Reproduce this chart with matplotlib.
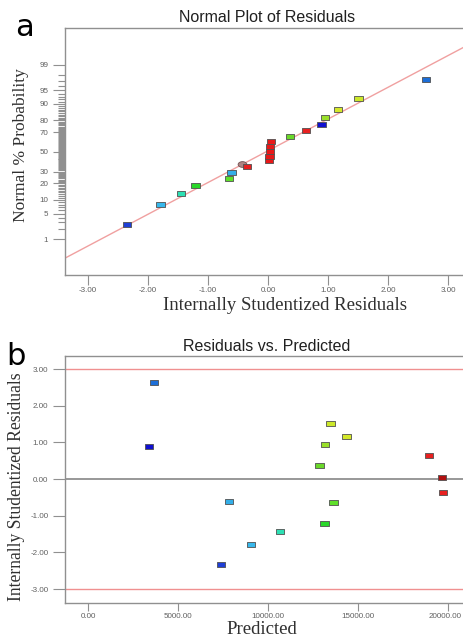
from statistics import NormalDist

import matplotlib.pyplot as plt
import matplotlib.transforms as mtrans
from matplotlib.path import Path
import numpy as np

# panel a: normal plot of residuals
resid_a = [-2.355, -1.79, -1.45, -1.21, -0.65, -0.61, -0.355,
           0.02, 0.025, 0.03, 0.035, 0.045,
           0.37, 0.633, 0.89, 0.945, 1.17, 1.51, 2.63]
pct_a = [2.7, 8.0, 13.3, 18.5, 23.8, 29.0, 35.0,
         40.5, 45.5, 50.5, 55.5, 60.5,
         66.2, 71.4, 76.4, 82.0, 87.0, 92.2, 97.4]
colors_a = ['#1f3fd6', '#38b8ec', '#2de0b4', '#2ad82a', '#5fe02a', '#33aee8', '#e82020',
            '#e81818', '#e81818', '#e81818', '#e81818', '#e81818',
            '#6ad82a', '#e82020', '#1010d0', '#9ae02a', '#d4e82a', '#cce82a', '#1c6ed8']
odd_resid = -0.43
odd_pct = 37.0
line_slope = 0.847
line_intercept = 0.03
prob_ticks = [1, 5, 10, 20, 30, 50, 70, 80, 90, 95, 99]

# panel b: residuals vs predicted
pred_b = [3685, 3407, 7833, 9037, 10667, 7407, 12870, 13167, 13481, 14352,
          13648, 13148, 18944, 19667, 19704]
resid_b = [2.625, 0.894, -0.61, -1.78, -1.44, -2.34, 0.383, 0.94, 1.51, 1.176,
           -0.647, -1.21, 0.638, 0.036, -0.355]
colors_b = ['#1c6ed8', '#1010d0', '#33aee8', '#38b8ec', '#2de0b4', '#1f3fd6', '#6ad82a',
            '#9ae02a', '#cce82a', '#d4e82a', '#5fe02a', '#2ad82a', '#e82020', '#b01010',
            '#e82020']
limit_lines = [-3.0, 3.0]

nd = NormalDist()
box = Path([(-1, -0.6), (1, -0.6), (1, 0.6), (-1, 0.6), (-1, -0.6)],
           [Path.MOVETO, Path.LINETO, Path.LINETO, Path.LINETO, Path.CLOSEPOLY])
t = np.linspace(0, 2 * np.pi, 40)
ellipse = Path(np.column_stack([np.cos(t), 0.65 * np.sin(t)]))

serif = 'Liberation Serif'
sans = 'Liberation Sans'
tick_kw = dict(fontsize=5.8, family=sans, color='#606060')
spine_col = '#909090'
W, H = 464, 638

fig = plt.figure(figsize=(4.64, 6.38), dpi=100)


def style_axes(ax, xlen):
    for s in ax.spines.values():
        s.set_color(spine_col)
        s.set_linewidth(1.0)
    ax.tick_params(which='both', direction='out', colors=spine_col, width=0.8)
    ax.tick_params(which='major', length=9)
    ax.tick_params(which='minor', length=5)
    ax.tick_params(axis='x', which='major', length=xlen, pad=1.5)
    ax.tick_params(axis='y', pad=3)


def ftext(x, y, s, **kw):
    fig.text(x / W, 1 - y / H, s, ha='center', va='center', **kw)


# ---- a ----
ax1 = fig.add_axes([65 / W, 1 - 275 / H, 420 / W, 247 / H])
style_axes(ax1, 7)
ax1.set_xlim(-3.383, (485 - 268) / 60)
ax1.set_ylim(-3.285, 3.307)
ax1.axline((0, line_intercept), slope=line_slope, color='#f0a0a0', lw=1.0, zorder=1)
za = [nd.inv_cdf(p / 100) for p in pct_a]
ax1.scatter(resid_a, za, marker=box, s=36, c=colors_a, edgecolors='#505050',
            linewidths=0.6, zorder=3)
ax1.scatter([odd_resid], [nd.inv_cdf(odd_pct / 100)], marker=ellipse, s=40,
            c='#b08484', edgecolors='#705050', linewidths=0.6, zorder=2)
ax1.set_xticks([-3, -2, -1, 0, 1, 2, 3])
ax1.set_xticklabels(['%.2f' % v for v in [-3, -2, -1, 0, 1, 2, 3]], **tick_kw)
ax1.set_yticks([nd.inv_cdf(p / 100) for p in prob_ticks])
ax1.set_yticklabels([str(p) for p in prob_ticks], **tick_kw)
minor = [p for p in range(1, 100) if p not in prob_ticks]
ax1.set_yticks([nd.inv_cdf(p / 100) for p in minor], minor=True)
ftext(267, 18, 'Normal Plot of Residuals', fontsize=11.5, family=sans, color='#202020')
ftext(285, 305, 'Internally Studentized Residuals', fontsize=13.5, family=serif,
      color='#303030')
ftext(21, 145, 'Normal % Probability', fontsize=12.5, family=serif, color='#303030',
      rotation=90)
fig.text(25 / W, 1 - 36 / H, 'a', fontsize=22, family='DejaVu Sans', ha='center',
         va='baseline')

# ---- b ----
ax2 = fig.add_axes([65 / W, 1 - 603 / H, 420 / W, 247 / H])
style_axes(ax2, 6)
ax2.set_xlim(-1278, (485 - 88) / 0.018)
ax2.set_ylim(-3.38, 3.36)
for v in limit_lines:
    ax2.axhline(v, color='#f09090', lw=1.0, zorder=1)
ax2.axhline(0, color='#909090', lw=1.3, zorder=1)
ax2.scatter(pred_b, resid_b, marker=box, s=36, c=colors_b, edgecolors='#505050',
            linewidths=0.6, zorder=3)
xt = [0, 5000, 10000, 15000, 20000]
ax2.set_xticks(xt)
ax2.set_xticklabels(['%.2f' % v for v in xt], **tick_kw)
# keep the last label inside the canvas
last = ax2.get_xticklabels()[-1]
last.set_transform(last.get_transform()
                   + mtrans.ScaledTranslation(-3 / 100, 0, fig.dpi_scale_trans))
yt = [-3, -2, -1, 0, 1, 2, 3]
ax2.set_yticks(yt)
ax2.set_yticklabels(['%.2f' % v for v in yt], **tick_kw)
ftext(267, 346, 'Residuals vs. Predicted', fontsize=11.5, family=sans, color='#202020')
ftext(262, 629, 'Predicted', fontsize=13.5, family=serif, color='#303030')
ftext(17, 487, 'Internally Studentized Residuals', fontsize=12.7, family=serif,
      color='#303030', rotation=90)
fig.text(16 / W, 1 - 365 / H, 'b', fontsize=22, family='DejaVu Sans', ha='center',
         va='baseline')

fig.savefig('out.png', dpi=100)
